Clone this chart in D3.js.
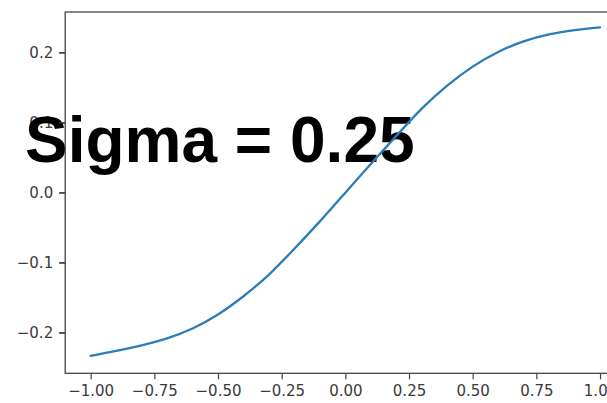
<!DOCTYPE html>
<html>
<head>
<meta charset="utf-8">
<script src="https://cdn.jsdelivr.net/npm/d3@7"></script>
<style>
  html, body { margin: 0; padding: 0; background: #fff; }
  svg { display: block; }
</style>
</head>
<body>
<script>
// Curve samples
const xValues = [-1.0, -0.9, -0.8, -0.7, -0.6, -0.5, -0.4, -0.3, -0.2, -0.1, 0.0,
                 0.1, 0.2, 0.3, 0.4, 0.5, 0.6, 0.7, 0.8, 0.9, 1.0];
const yValues = [-0.233, -0.226, -0.218, -0.208, -0.194, -0.174, -0.148, -0.117, -0.080, -0.041, 0.0,
                 0.041, 0.081, 0.120, 0.153, 0.180, 0.201, 0.216, 0.226, 0.232, 0.236];

// Axis ticks and limits
const xTicks = [-1.0, -0.75, -0.5, -0.25, 0.0, 0.25, 0.5, 0.75, 1.0];
const yTicks = [-0.2, -0.1, 0.0, 0.1, 0.2];
const xLimits = [-1.1, 1.1];
const yLimits = [-0.258, 0.258];

const title = "Sigma = 0.25";

const W = 607, H = 403;
const plot = { left: 65.2, right: 625.5, top: 12, bottom: 373.3 };

const svg = d3.select("body").append("svg")
  .attr("width", W).attr("height", H);

const x = d3.scaleLinear().domain(xLimits).range([plot.left, plot.right]);
const y = d3.scaleLinear().domain(yLimits).range([plot.bottom, plot.top]);

const tickFont = "DejaVu Sans, sans-serif";
const tickColor = "#3a3a3a";

// Axes (tick labels go below the big label, tick marks above it)
const gx = svg.append("g")
  .attr("transform", `translate(0,${plot.bottom})`)
  .call(d3.axisBottom(x).tickValues(xTicks).tickFormat(d3.format(".2f"))
    .tickSize(6).tickPadding(6));

const gy = svg.append("g")
  .attr("transform", `translate(${plot.left},0)`)
  .call(d3.axisLeft(y).tickValues(yTicks).tickFormat(d3.format(".1f"))
    .tickSize(6).tickPadding(6));

[gx, gy].forEach(g => {
  g.select(".domain").remove();
  g.selectAll(".tick line").attr("stroke", "#444").attr("stroke-width", 1.2);
  g.selectAll(".tick text")
    .attr("fill", tickColor)
    .attr("font-family", tickFont)
    .attr("font-size", 15);
});

// Big label
svg.append("text")
  .attr("x", 25)
  .attr("y", 161.5)
  .attr("font-family", "Liberation Sans, Arial, Helvetica, sans-serif")
  .attr("font-weight", "bold")
  .attr("font-size", 64)
  .attr("fill", "#000")
  .text(title);

// Tick marks drawn again on top of the label
[gx, gy].forEach(g => g.selectAll(".tick line").raise());
svg.append("g").attr("transform", `translate(${plot.left},0)`)
  .selectAll("line").data(yTicks).join("line")
  .attr("x1", -6).attr("x2", 0)
  .attr("y1", d => y(d)).attr("y2", d => y(d))
  .attr("stroke", "#444").attr("stroke-width", 1.2);

// Spines
svg.append("rect")
  .attr("x", plot.left).attr("y", plot.top)
  .attr("width", plot.right - plot.left)
  .attr("height", plot.bottom - plot.top)
  .attr("fill", "none").attr("stroke", "#444").attr("stroke-width", 1.3);

// Curve
const line = d3.line()
  .x((d, i) => x(xValues[i]))
  .y(d => y(d))
  .curve(d3.curveNatural);

svg.append("path")
  .datum(yValues)
  .attr("fill", "none")
  .attr("stroke", "#2a7cba")
  .attr("stroke-width", 2.3)
  .attr("stroke-linecap", "round")
  .attr("d", line);
</script>
</body>
</html>
